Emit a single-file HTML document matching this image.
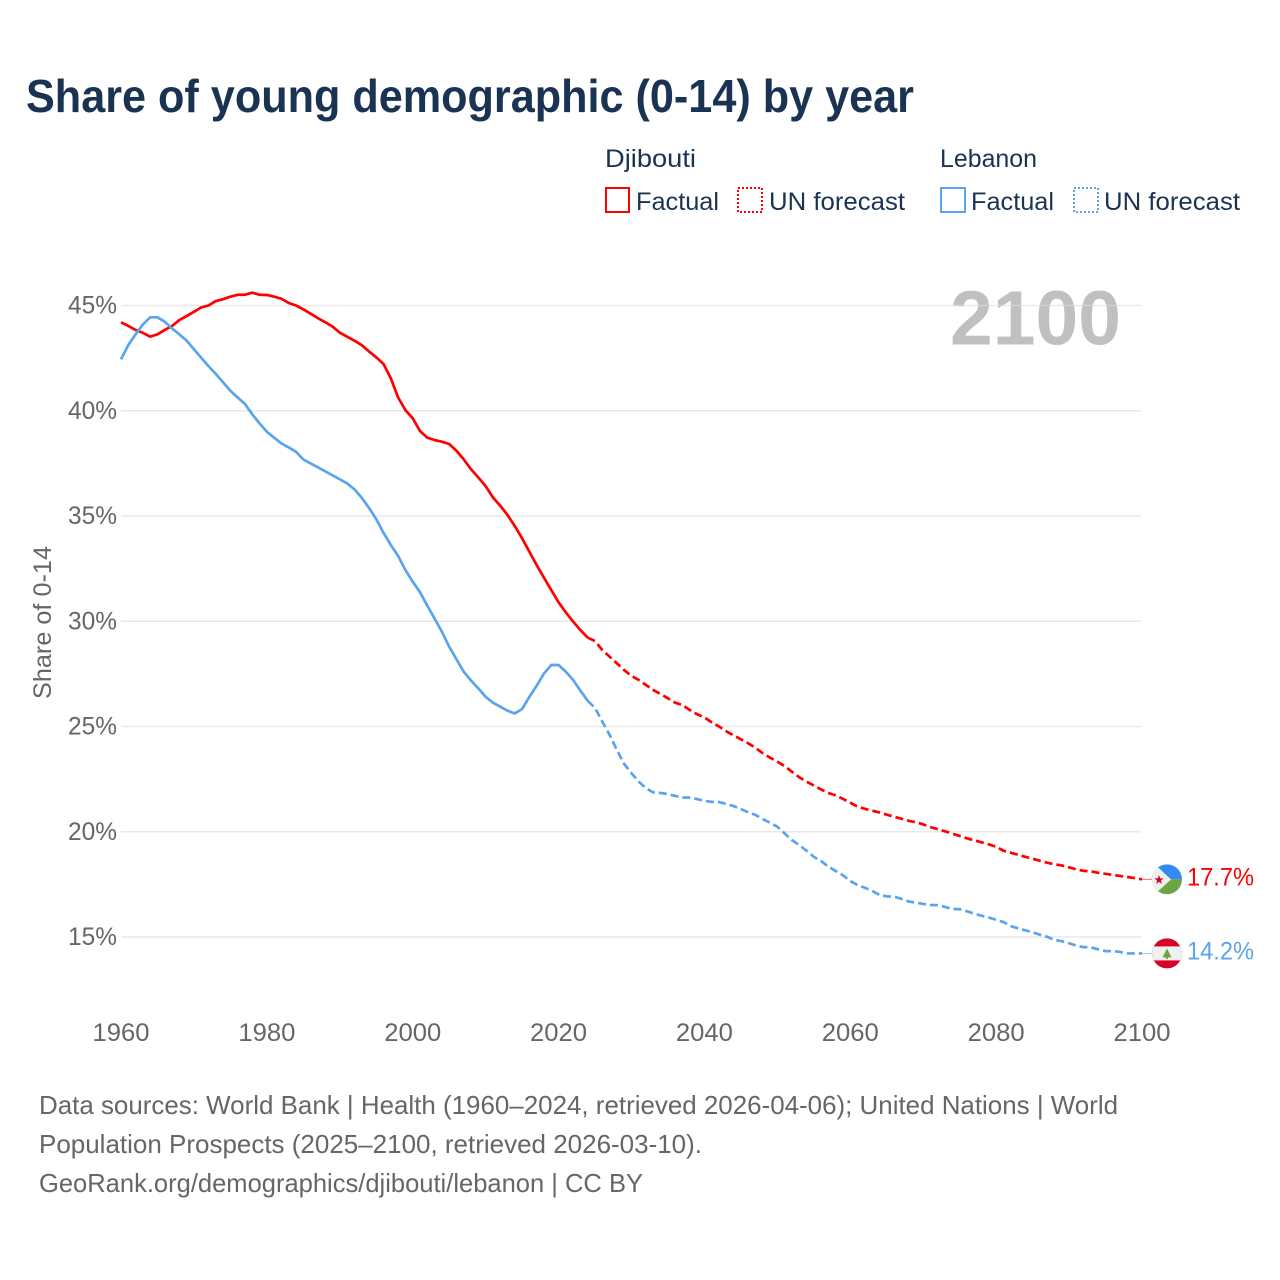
<!DOCTYPE html>
<html lang="en">
<head>
<meta charset="utf-8">
<title>Share of young demographic (0-14) by year</title>
<style>
html,body{margin:0;padding:0;background:#fff;}
svg{display:block;}
text{font-family:"Liberation Sans",sans-serif;}
</style>
</head>
<body>
<svg id="chart" xmlns="http://www.w3.org/2000/svg" width="1280" height="1280" viewBox="0 0 1280 1280">
  <rect width="1280" height="1280" fill="#ffffff"/>
  <text x="26" y="112" font-size="46" font-weight="700" fill="#1a3353" textLength="888" lengthAdjust="spacingAndGlyphs">Share of young demographic (0-14) by year</text>

  <g font-size="25" fill="#1a3353">
    <text x="605" y="167" textLength="91" lengthAdjust="spacingAndGlyphs">Djibouti</text>
    <text x="940" y="167" textLength="97" lengthAdjust="spacingAndGlyphs">Lebanon</text>
    <g>
      <rect x="606" y="188" width="23" height="24" fill="none" stroke="#ff0000" stroke-width="2"/>
      <text x="636" y="210" textLength="83" lengthAdjust="spacingAndGlyphs">Factual</text>
    </g>
    <g>
      <rect x="738" y="188" width="24" height="24" fill="none" stroke="#ff0000" stroke-width="2" stroke-dasharray="2 2"/>
      <text x="769" y="210" textLength="136" lengthAdjust="spacingAndGlyphs">UN forecast</text>
    </g>
    <g>
      <rect x="941" y="188" width="24" height="24" fill="none" stroke="#5ba4ec" stroke-width="2"/>
      <text x="971" y="210" textLength="83" lengthAdjust="spacingAndGlyphs">Factual</text>
    </g>
    <g>
      <rect x="1074" y="188" width="24" height="24" fill="none" stroke="#5ba4ec" stroke-width="2" stroke-dasharray="2 2"/>
      <text x="1104" y="210" textLength="136" lengthAdjust="spacingAndGlyphs">UN forecast</text>
    </g>
  </g>

  <text x="950" y="344.5" font-size="77" font-weight="700" fill="#c0c0c0" textLength="171" lengthAdjust="spacingAndGlyphs">2100</text>

  <g id="grid"></g>
  <g id="yticks"></g>
  <g id="xticks"></g>

  <text transform="translate(51 699) rotate(-90)" x="0" y="0" font-size="25" fill="#666666" textLength="153" lengthAdjust="spacingAndGlyphs">Share of 0-14</text>

  <g id="series"></g>

  <g id="flag-djibouti">
    <clipPath id="clip-dj"><circle cx="0" cy="0" r="15"/></clipPath>
    <g clip-path="url(#clip-dj)">
      <rect x="-15" y="-15" width="30" height="15" fill="#338af3"/>
      <rect x="-15" y="0" width="30" height="15" fill="#6da544"/>
      <polygon points="-15,-15 -10,-13 4,0 -10,13 -15,15" fill="#f0f0f0"/>
    </g>
    <polygon points="-8,-4.2 -6.8,-0.9 -3.3,-0.9 -6.1,1.2 -5.1,4.6 -8,2.6 -10.9,4.6 -9.9,1.2 -12.7,-0.9 -9.2,-0.9" fill="#d80027"/>
  </g>
  <g id="flag-lebanon">
    <clipPath id="clip-lb"><circle cx="0" cy="0" r="15"/></clipPath>
    <g clip-path="url(#clip-lb)">
      <rect x="-15" y="-15" width="30" height="30" fill="#d80027"/>
      <rect x="-15" y="-7" width="30" height="14" fill="#f0f0f0"/>
    </g>
    <polygon points="0,-5 4.5,4 1,4 1,5.5 -1,5.5 -1,4 -4.5,4" fill="#6da544"/>
  </g>

  <g id="end-labels"></g>

  <g font-size="26" fill="#666666">
    <text x="39" y="1114" textLength="1079" lengthAdjust="spacingAndGlyphs">Data sources: World Bank | Health (1960–2024, retrieved 2026-04-06); United Nations | World</text>
    <text x="39" y="1153" textLength="663" lengthAdjust="spacingAndGlyphs">Population Prospects (2025–2100, retrieved 2026-03-10).</text>
    <text x="39" y="1192" textLength="604" lengthAdjust="spacingAndGlyphs">GeoRank.org/demographics/djibouti/lebanon | CC BY</text>
  </g>
</svg>

<script>
const factualStartYear = 1960;
const forecastStartYear = 2024;
const yTickValues = [15, 20, 25, 30, 35, 40, 45];
const xTickYears = [1960, 1980, 2000, 2020, 2040, 2060, 2080, 2100];

const djiboutiFactual = [
  44.2,44.03,43.84,43.7,43.52,43.63,43.84,44.03,44.31,44.5,
  44.7,44.91,45.0,45.21,45.3,45.42,45.51,45.51,45.61,45.51,
  45.5,45.42,45.32,45.12,45.0,44.82,44.61,44.4,44.21,44.0,
  43.71,43.52,43.33,43.12,42.82,42.54,42.22,41.54,40.63,40.03,
  39.64,39.04,38.72,38.61,38.53,38.42,38.1,37.69,37.22,36.83,
  36.42,35.88,35.49,35.05,34.52,33.94,33.3,32.67,32.07,31.48,
  30.9,30.42,29.98,29.58,29.22
];
const djiboutiForecast = [
  29.22,29.06,28.63,28.32,28.0,27.68,
  27.4,27.21,26.97,26.73,26.54,26.34,26.13,26.02,25.78,25.58,
  25.43,25.2,25.0,24.77,24.58,24.39,24.2,23.99,23.73,23.52,
  23.33,23.12,22.85,22.59,22.38,22.2,22.01,21.84,21.73,21.56,
  21.38,21.19,21.09,21.0,20.92,20.81,20.71,20.62,20.52,20.45,
  20.35,20.22,20.12,20.02,19.91,19.8,19.69,19.59,19.5,19.4,
  19.29,19.1,19.0,18.91,18.81,18.72,18.62,18.53,18.45,18.4,
  18.31,18.21,18.14,18.12,18.05,18.0,17.95,17.9,17.85,17.8,
  17.74
];
const lebanonFactual = [
  42.44,43.12,43.63,44.1,44.44,44.44,44.23,43.91,43.63,43.33,
  42.92,42.52,42.12,41.75,41.35,40.95,40.63,40.32,39.83,39.4,
  39.0,38.72,38.45,38.26,38.05,37.69,37.5,37.31,37.12,36.93,
  36.74,36.55,36.27,35.87,35.39,34.85,34.2,33.62,33.1,32.43,
  31.88,31.38,30.74,30.13,29.5,28.79,28.19,27.6,27.18,26.81,
  26.41,26.13,25.94,25.75,25.62,25.83,26.41,26.94,27.52,27.92,
  27.92,27.6,27.21,26.7,26.22
];
const lebanonForecast = [
  26.22,25.88,25.23,24.6,23.88,23.22,
  22.78,22.38,22.06,21.87,21.84,21.79,21.7,21.63,21.62,21.55,
  21.47,21.42,21.41,21.32,21.22,21.08,20.92,20.8,20.6,20.43,
  20.24,19.92,19.6,19.37,19.1,18.81,18.61,18.34,18.14,17.93,
  17.66,17.47,17.34,17.19,17.0,16.93,16.92,16.81,16.69,16.63,
  16.57,16.52,16.51,16.43,16.33,16.32,16.22,16.11,16.01,15.92,
  15.82,15.71,15.52,15.41,15.32,15.22,15.11,15.01,14.86,14.8,
  14.7,14.59,14.52,14.51,14.41,14.33,14.33,14.29,14.22,14.22,
  14.22
];

const NS = 'http://www.w3.org/2000/svg';
const RED = '#ff0000';
const BLUE = '#5ba4ec';
const LINE_WIDTH = 2.7;

function xScale(year) { return 121 + (year - 1960) * (1142 - 121) / 140; }
function yScale(value) { return 937 - (value - 15) * (937 - 305.5) / 30; }

function make(tag, attrs, parent) {
  const el = document.createElementNS(NS, tag);
  Object.keys(attrs).forEach(function (k) { el.setAttribute(k, attrs[k]); });
  parent.appendChild(el);
  return el;
}

const gridGroup = document.getElementById('grid');
const yTickGroup = document.getElementById('yticks');
yTickValues.forEach(function (v) {
  const line = make('line', { x1: 121, x2: 1141, y1: yScale(v), y2: yScale(v), stroke: '#dcdcdc', 'stroke-opacity': 0.65, 'stroke-width': 1.5 }, gridGroup);
  
  
  const t = make('text', { x: 68, y: yScale(v) + 8, 'font-size': 25, fill: '#666666', textLength: 49, lengthAdjust: 'spacingAndGlyphs' }, yTickGroup);
  
  
  t.textContent = v + '%';
});

const xTickGroup = document.getElementById('xticks');
xTickYears.forEach(function (yr) {
  const t = make('text', { x: xScale(yr) - 28.5, y: 1041, 'font-size': 25, fill: '#666666', textLength: 57, lengthAdjust: 'spacingAndGlyphs' }, xTickGroup);
  
  
  t.textContent = String(yr);
});

function pathFrom(values, startYear) {
  return values.map(function (v, i) {
    return (i ? 'L' : 'M') + xScale(startYear + i).toFixed(2) + ' ' + yScale(v).toFixed(2);
  }).join(' ');
}

const seriesGroup = document.getElementById('series');

const djFactualLine = make('path', { d: pathFrom(djiboutiFactual, factualStartYear), fill: 'none', stroke: RED, 'stroke-width': LINE_WIDTH, 'stroke-linejoin': 'round' }, seriesGroup);



const djForecastLine = make('path', { d: pathFrom(djiboutiForecast, forecastStartYear), fill: 'none', stroke: RED, 'stroke-width': LINE_WIDTH, 'stroke-dasharray': '8 4' }, seriesGroup);



const lbFactualLine = make('path', { d: pathFrom(lebanonFactual, factualStartYear), fill: 'none', stroke: BLUE, 'stroke-width': LINE_WIDTH, 'stroke-linejoin': 'round' }, seriesGroup);



const lbForecastLine = make('path', { d: pathFrom(lebanonForecast, forecastStartYear), fill: 'none', stroke: BLUE, 'stroke-width': LINE_WIDTH, 'stroke-dasharray': '8 4' }, seriesGroup);



const djLast = djiboutiForecast[djiboutiForecast.length - 1];
const lbLast = lebanonForecast[lebanonForecast.length - 1];

const djConnector = make('line', { x1: xScale(2100), x2: 1154, y1: yScale(djLast), y2: yScale(djLast), stroke: RED, 'stroke-width': 1, opacity: 0.6 }, seriesGroup);



const lbConnector = make('line', { x1: xScale(2100), x2: 1154, y1: yScale(lbLast), y2: yScale(lbLast), stroke: BLUE, 'stroke-width': 1, opacity: 0.6 }, seriesGroup);



document.getElementById('flag-djibouti').setAttribute('transform', 'translate(1167 ' + yScale(djLast).toFixed(2) + ')');
document.getElementById('flag-lebanon').setAttribute('transform', 'translate(1167 ' + yScale(lbLast).toFixed(2) + ')');

const labelGroup = document.getElementById('end-labels');
const djLabel = make('text', { x: 1187, y: yScale(djLast) + 6, 'font-size': 25, fill: RED, textLength: 67, lengthAdjust: 'spacingAndGlyphs' }, labelGroup);


djLabel.textContent = djLast.toFixed(1) + '%';

const lbLabel = make('text', { x: 1187, y: yScale(lbLast) + 6, 'font-size': 25, fill: BLUE, textLength: 67, lengthAdjust: 'spacingAndGlyphs' }, labelGroup);


lbLabel.textContent = lbLast.toFixed(1) + '%';
</script>
</body>
</html>
